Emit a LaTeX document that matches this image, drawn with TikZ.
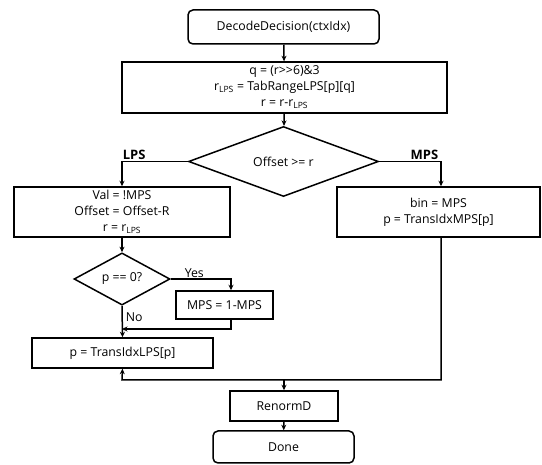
\documentclass[tikz,border=0pt]{standalone}
\usepackage{fontspec}
\setmainfont{Open Sans}
\usetikzlibrary{shapes.geometric,arrows.meta}

\begin{document}
\begin{tikzpicture}[x=1pt,y=-1pt,
  font=\fontsize{12.3}{16}\selectfont,
  line width=1.5pt,
  box/.style={draw, rectangle, inner sep=0pt, align=center},
  term/.style={draw, rectangle, rounded corners=5pt, inner sep=0pt, align=center},
  test/.style={draw, diamond, inner sep=0pt, align=center},
  flow/.style={-{Stealth[length=5.5pt,width=5pt]}},
  lbl/.style={inner sep=1pt, font=\fontsize{12.3}{14}\selectfont},
  blbl/.style={inner sep=1pt, font=\fontsize{13}{15}\selectfont\bfseries}]
\useasboundingbox (0,0) rectangle (542,465);

% blocks
\node[term, minimum width=191pt, minimum height=34pt] (start) at (283.5,27) {DecodeDecision(ctxIdx)};
\node[box, minimum width=325pt, minimum height=51pt] (calc) at (284.5,87.5)
  {q = (r{>}{>}6)\&3\\ r\textsubscript{LPS} = TabRangeLPS[p][q]\\ r = r-r\textsubscript{LPS}};
\node[test, minimum width=190pt, minimum height=64pt] (dec) at (283.5,161.5) {Offset >= r};
\node[box, minimum width=216pt, minimum height=50pt] (lps) at (122,212)
  {Val = !MPS\\ Offset = Offset-R\\ r = r\textsubscript{LPS}};
\node[box, minimum width=203pt, minimum height=50pt] (mps) at (438.5,212)
  {bin = MPS\\ p = TransIdxMPS[p]};
\node[test, minimum width=96pt, minimum height=52pt] (pz) at (122,279) {p == 0?};
\node[box, minimum width=97pt, minimum height=28pt] (flip) at (224.5,305) {MPS = 1-MPS};
\node[box, minimum width=181pt, minimum height=30pt] (trans) at (122.5,353) {p = TransIdxLPS[p]};
\node[box, minimum width=108pt, minimum height=30pt] (renorm) at (284,406) {RenormD};
\node[term, minimum width=141pt, minimum height=32pt] (done) at (283.5,447) {Done};

% junction points
\coordinate (lpsTop) at (122,161.5);
\coordinate (mpsTop) at (441,161.5);
\coordinate (mpsDown) at (441,237);
\coordinate (yesTurn) at (231,279);
\coordinate (flipOut) at (231,319);
\coordinate (flipTurn) at (231,329);
\coordinate (noJoin) at (122,329);
\coordinate (mpsCorner) at (441,380);
\coordinate (lpsCorner) at (122,380);
\coordinate (merge) at (284,380);

% connectors
\draw[flow] (start) -- (calc);
\draw[flow] (calc) -- (dec);
\draw[flow] (dec.west) -- (lpsTop) -- (lps.north);
\draw[flow] (dec.east) -- (mpsTop) -- (mpsTop |- mps.north);
\draw[flow] (lps) -- (pz);
\draw[flow] (pz.east) -- (yesTurn) -- (flip.north -| yesTurn);
\draw[flow] (pz.south) -- (trans.north);
\draw[flow] (flipOut) -- (flipTurn) -- (noJoin);
\draw[flow] (mpsDown) -- (mpsCorner) -- (lpsCorner) -- (trans.south);
\draw[flow] (merge) -- (renorm.north);
\draw[flow] (renorm) -- (done);

% branch labels
\node[blbl, anchor=south west] (lpsL) at (121,161) {LPS};
\node[blbl, anchor=south east] (mpsL) at (440,161) {MPS};
\node[lbl, anchor=south west] (yesL) at (183,279) {Yes};
\node[lbl, anchor=west] (noL) at (124,317) {No};
\end{tikzpicture}
\end{document}
